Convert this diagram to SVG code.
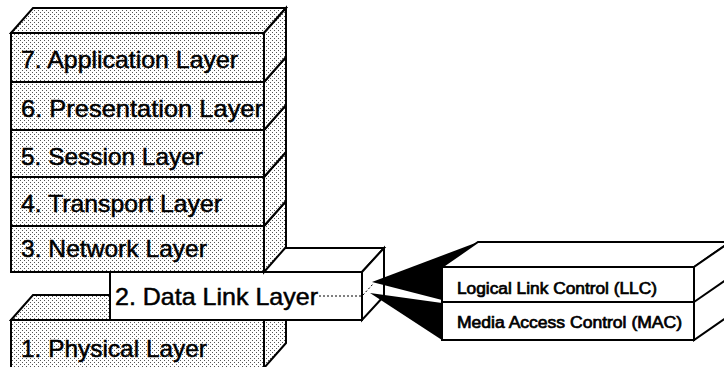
<svg xmlns="http://www.w3.org/2000/svg" width="724" height="367" viewBox="0 0 724 367">
<defs>
<pattern id="dots" width="4" height="4" patternUnits="userSpaceOnUse">
<rect width="4" height="4" fill="#ffffff"/>
<rect x="0" y="0" width="1" height="1" fill="#555"/>
<rect x="2" y="2" width="1" height="1" fill="#555"/>
</pattern>
<style>
.st{fill:url(#dots);stroke:#000;stroke-width:2;stroke-linejoin:miter}
.wh{fill:#fff;stroke:#000;stroke-width:2;stroke-linejoin:miter}
.big{font-family:"Liberation Sans",Arial,sans-serif;font-size:24px;fill:#000;stroke:#000;stroke-width:0.5}
.small{font-family:"Liberation Sans",Arial,sans-serif;font-size:16px;fill:#000;stroke:#000;stroke-width:0.7}
.dot{fill:none;stroke:#000;stroke-width:1;stroke-dasharray:2 2}
.wedge{fill:#000;stroke:none}
</style>
</defs>
<rect width="724" height="367" fill="#fff"/>

<g id="layer1">
<polygon class="st" points="11,320 33,295 286,295 264,320"/>
<polygon class="st" points="264,320 286,295 286,343 264,368"/>
<rect class="st" x="11" y="320" width="253" height="48"/>
<text class="big" x="21" y="357" textLength="186" lengthAdjust="spacingAndGlyphs">1. Physical Layer</text>
</g>

<g id="layer2">
<polygon class="wh" points="110,272 132,248 384,248 362,272"/>
<polygon class="wh" points="362,272 384,248 384,296 362,320"/>
<rect class="wh" x="110" y="272" width="252" height="48"/>
<text class="big" x="115" y="305" textLength="203" lengthAdjust="spacingAndGlyphs">2. Data Link Layer</text>
</g>

<g id="layer3">
<polygon class="st" points="264,226 286,201 286,247 264,272"/>
<rect class="st" x="11" y="226" width="253" height="46"/>
<text class="big" x="21" y="257" textLength="186" lengthAdjust="spacingAndGlyphs">3. Network Layer</text>
</g>

<g id="layer4">
<polygon class="st" points="264,177 286,152 286,201 264,226"/>
<rect class="st" x="11" y="177" width="253" height="49"/>
<text class="big" x="21" y="212" textLength="201" lengthAdjust="spacingAndGlyphs">4. Transport Layer</text>
</g>

<g id="layer5">
<polygon class="st" points="264,130 286,105 286,152 264,177"/>
<rect class="st" x="11" y="130" width="253" height="47"/>
<text class="big" x="21" y="165" textLength="182" lengthAdjust="spacingAndGlyphs">5. Session Layer</text>
</g>

<g id="layer6">
<polygon class="st" points="264,82 286,57 286,105 264,130"/>
<rect class="st" x="11" y="82" width="253" height="48"/>
<text class="big" x="21" y="117" textLength="242" lengthAdjust="spacingAndGlyphs">6. Presentation Layer</text>
</g>

<g id="layer7">
<polygon class="st" points="11,33 33,8 286,8 264,33"/>
<polygon class="st" points="264,33 286,8 286,57 264,82"/>
<rect class="st" x="11" y="33" width="253" height="49"/>
<text class="big" x="21" y="68" textLength="217" lengthAdjust="spacingAndGlyphs">7. Application Layer</text>
</g>

<g id="connectors">
<line class="dot" x1="319" y1="296" x2="362" y2="296"/>
<line class="dot" x1="363" y1="295" x2="373" y2="284"/>
<polygon class="wedge" points="372,282 478,242 442,300"/>
<polygon class="wedge" points="370,293 442,303 442,340"/>
</g>

<g id="sublayers">
<polygon class="wh" points="442,267 478,242 730,242 694,267"/>
<polygon class="wh" points="694,267 730,242 730,315 694,340"/>
<line x1="694" y1="302" x2="730" y2="277" stroke="#000" stroke-width="2"/>
<rect class="wh" x="442" y="267" width="252" height="73"/>
<line x1="442" y1="302" x2="694" y2="302" stroke="#000" stroke-width="2"/>
<text class="small" x="457" y="294" textLength="200" lengthAdjust="spacingAndGlyphs">Logical Link Control (LLC)</text>
<text class="small" x="457" y="328" textLength="225" lengthAdjust="spacingAndGlyphs">Media Access Control (MAC)</text>
</g>
</svg>
